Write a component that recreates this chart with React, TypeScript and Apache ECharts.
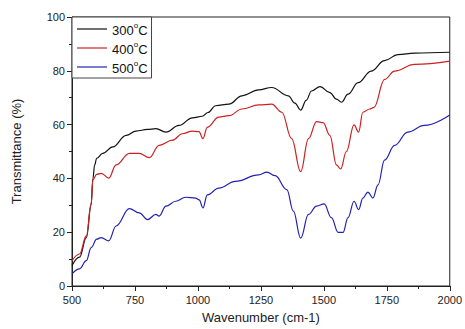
import React, { useEffect, useRef } from "react";
import * as echarts from "echarts";

const seriesNames = ["300°C", "400°C", "500°C"];
const seriesColors = ["#111111", "#cc2020", "#2222b0"];

const wn300 = [500, 530, 557, 576, 583, 590, 598, 622, 662, 715, 754, 800, 833, 873, 925, 978, 1017, 1040, 1070, 1123, 1175, 1241, 1293, 1359, 1385, 1408, 1430, 1451, 1485, 1524, 1550, 1570, 1596, 1636, 1688, 1741, 1794, 1860, 2000];
const t300 = [7.6, 10.7, 18, 30, 40, 45, 47.5, 49.3, 51.7, 56, 57.6, 58.2, 58.5, 57.2, 59.7, 62.5, 63.1, 64.5, 67, 67.6, 70.7, 72.9, 73.8, 70.7, 68, 65.4, 69, 72.5, 74.1, 71.9, 69.5, 68.3, 71.3, 75.6, 79.9, 83.8, 86, 86.6, 86.9];

const wn400 = [500, 530, 557, 576, 583, 598, 616, 646, 675, 728, 767, 807, 846, 899, 938, 978, 1004, 1020, 1037, 1083, 1123, 1175, 1241, 1293, 1333, 1372, 1408, 1439, 1471, 1497, 1524, 1550, 1567, 1589, 1620, 1638, 1655, 1682, 1699, 1741, 1781, 1860, 2000];
const t400 = [9.4, 11.9, 18.6, 30.6, 39.5, 41.5, 41.9, 40.1, 45, 49.3, 49.3, 47.7, 52.3, 54.2, 56.6, 57.6, 57.4, 54.8, 59, 62.8, 63.3, 65.8, 67.3, 67.6, 64.6, 54.8, 42.5, 54.8, 61.1, 60.7, 56, 45, 43.5, 49.9, 59.9, 57.2, 64.6, 65.8, 66.4, 76.8, 79.9, 82.4, 83.6];

const wn500 = [500, 530, 557, 576, 598, 616, 646, 675, 728, 767, 800, 833, 846, 873, 912, 951, 991, 1005, 1020, 1037, 1083, 1149, 1241, 1274, 1307, 1353, 1379, 1408, 1439, 1471, 1501, 1530, 1557, 1576, 1596, 1620, 1638, 1655, 1675, 1695, 1715, 1741, 1781, 1833, 1899, 2000];
const t500 = [4.5, 6.4, 9.4, 14.3, 17.4, 18, 16.8, 22.3, 28.8, 27.2, 24.7, 26.6, 26, 29.7, 31.5, 33, 32.7, 32, 29, 33.9, 36.4, 38.9, 41.3, 42.3, 41, 35.8, 27.8, 17.8, 26.6, 29.7, 30.5, 25.4, 19.9, 19.9, 25.4, 31.5, 28.4, 32.7, 34.9, 32.7, 37.6, 46.8, 52.3, 57.2, 59.7, 63.6];

const xName = "Wavenumber (cm-1)";
const yName = "Transmittance (%)";

const FONT = "Liberation Sans, Arial, sans-serif";

export default function App() {
  const ref = useRef<HTMLDivElement>(null);
  useEffect(() => {
    if (!ref.current) return;
    const chart = echarts.init(ref.current, undefined, { renderer: "svg" });
    const wns = [wn300, wn400, wn500];
    const ts = [t300, t400, t500];
    chart.setOption({
      animation: false,
      backgroundColor: "#ffffff",
      textStyle: { fontFamily: FONT },
      grid: {
        left: 72,
        right: 13,
        top: 17,
        bottom: 40,
        show: true,
        borderColor: "#222",
        borderWidth: 1,
      },
      legend: {
        orient: "vertical",
        left: 72,
        top: 17,
        itemWidth: 30,
        itemHeight: 14,
        itemGap: 3,
        padding: [4, 4, 3, 5],
        borderColor: "#444",
        borderWidth: 1,
        backgroundColor: "#fff",
        icon: "path://M0,0L30,0L30,1.2L0,1.2Z",
        data: seriesNames,
        formatter: (name: string) => {
          const num = name.split("°")[0];
          return `{n|${num}}{s|o}{n|C}`;
        },
        textStyle: {
          color: "#111",
          fontFamily: FONT,
          rich: {
            n: { fontSize: 13, fontFamily: FONT, color: "#111", lineHeight: 16, verticalAlign: "bottom" },
            s: { fontSize: 8, fontFamily: FONT, color: "#111", lineHeight: 16, verticalAlign: "top", padding: [0, 0, 8, 0] },
          },
        },
      },
      xAxis: {
        type: "value",
        min: 500,
        max: 2000,
        interval: 250,
        name: xName,
        nameLocation: "middle",
        nameGap: 25,
        nameTextStyle: { fontSize: 13, color: "#222", fontFamily: FONT },
        axisLine: { show: true, lineStyle: { color: "#222", width: 1 } },
        axisTick: { show: true, length: 5, lineStyle: { color: "#222" } },
        minorTick: { show: true, splitNumber: 2, length: 3, lineStyle: { color: "#222" } },
        splitLine: { show: false },
        axisLabel: { fontSize: 11, color: "#222", margin: 8, fontFamily: FONT, formatter: (v: number) => String(v) },
      },
      yAxis: {
        type: "value",
        min: 0,
        max: 100,
        interval: 20,
        name: yName,
        nameLocation: "middle",
        nameGap: 49,
        nameTextStyle: { fontSize: 13, color: "#222", fontFamily: FONT },
        axisLine: { show: true, lineStyle: { color: "#222", width: 1 } },
        axisTick: { show: true, length: 5, lineStyle: { color: "#222" } },
        minorTick: { show: true, splitNumber: 2, length: 3, lineStyle: { color: "#222" } },
        splitLine: { show: false },
        axisLabel: { fontSize: 11, color: "#222", margin: 7, fontFamily: FONT, formatter: (v: number) => String(v) },
      },
      series: seriesNames.map((name, i) => ({
        name,
        type: "line",
        data: wns[i].map((w, j) => [w, ts[i][j]]),
        showSymbol: false,
        smooth: 0.4,
        smoothMonotone: "x",
        lineStyle: { color: seriesColors[i], width: 1.2 },
        itemStyle: { color: seriesColors[i] },
      })),
    });
    return () => chart.dispose();
  }, []);
  return <div ref={ref} style={{ width: 465, height: 329, position: "absolute", left: 0, top: 0 }} />;
}
